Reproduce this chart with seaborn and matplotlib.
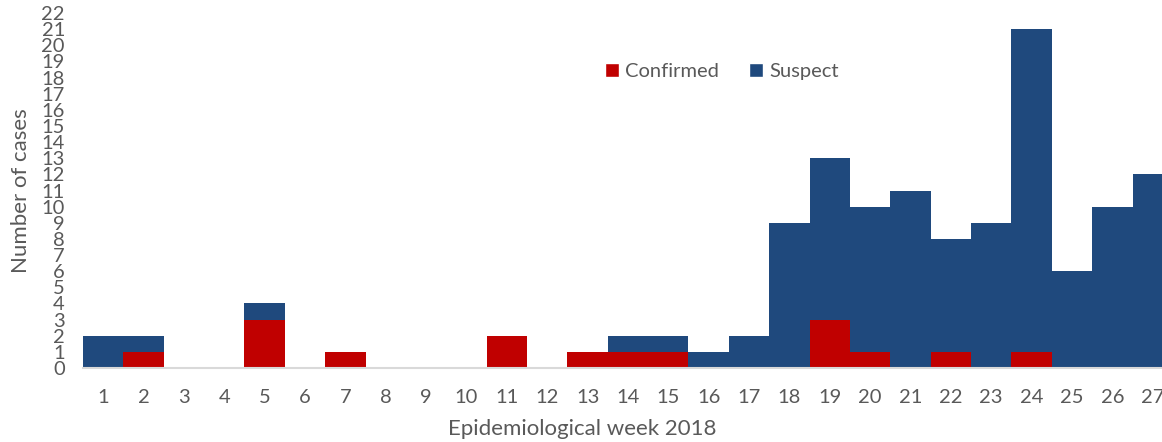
import numpy as np
import pandas as pd
import seaborn as sns
import matplotlib.pyplot as plt
from matplotlib.patches import Patch

# --- data
weeks = list(range(1, 28))
suspect = [2, 2, 0, 0, 4, 0, 0, 0, 0, 0, 0, 0, 0, 2, 2, 1, 2, 9, 13, 10, 11, 8, 9, 21, 6, 10, 12]
confirmed = [0, 1, 0, 0, 3, 0, 1, 0, 0, 0, 2, 0, 1, 1, 1, 0, 0, 0, 3, 1, 0, 1, 0, 1, 0, 0, 0]

col_suspect = "#1F497D"
col_confirmed = "#C00000"
txt_col = "#595959"

df = pd.DataFrame({"week": weeks, "suspect": suspect, "confirmed": confirmed})

sns.set_theme(style="white")
plt.rcParams["font.family"] = ["Lato", "DejaVu Sans"]

fig = plt.figure(figsize=(11.62, 4.42), dpi=100)
ax = fig.add_axes([83 / 1162, 1 - 368 / 442, 1 - 83 / 1162, (368 - 13) / 442])

# overlapping bars: suspect behind, confirmed in front
sns.barplot(data=df, x="week", y="suspect", color=col_suspect, width=1.0,
            saturation=1, linewidth=0, ax=ax)
sns.barplot(data=df, x="week", y="confirmed", color=col_confirmed, width=1.0,
            saturation=1, linewidth=0, ax=ax)

# right edge is cropped through week 27, as in the source image
ax.set_xlim(-0.5, 26.23)
ax.set_ylim(0, 22)
ax.set_yticks(range(0, 23))
ax.tick_params(axis="y", length=0, pad=13, labelsize=14.5, labelcolor=txt_col)
ax.tick_params(axis="x", length=0, pad=15, labelsize=14.5, labelcolor=txt_col)
for s in ["top", "right", "left"]:
    ax.spines[s].set_visible(False)
ax.spines["bottom"].set_color("#d9d9d9")
ax.spines["bottom"].set_linewidth(1.5)

ax.set_ylabel("Number of cases", fontsize=16, color=txt_col)
ax.yaxis.set_label_coords(-0.048, 0.5)
ax.set_xlabel("Epidemiological week 2018", fontsize=16, color=txt_col)
ax.xaxis.set_label_coords(0.463, -0.145)

handles = [Patch(facecolor=col_confirmed, label="Confirmed"),
           Patch(facecolor=col_suspect, label="Suspect")]
leg = ax.legend(handles=handles, ncol=2, frameon=False, loc="center",
                bbox_to_anchor=(0.592, 0.835), handlelength=0.7, handleheight=0.7,
                handletextpad=0.3, columnspacing=1.5, fontsize=14.5)
for t in leg.get_texts():
    t.set_color(txt_col)

plt.savefig("out.png", dpi=100)
